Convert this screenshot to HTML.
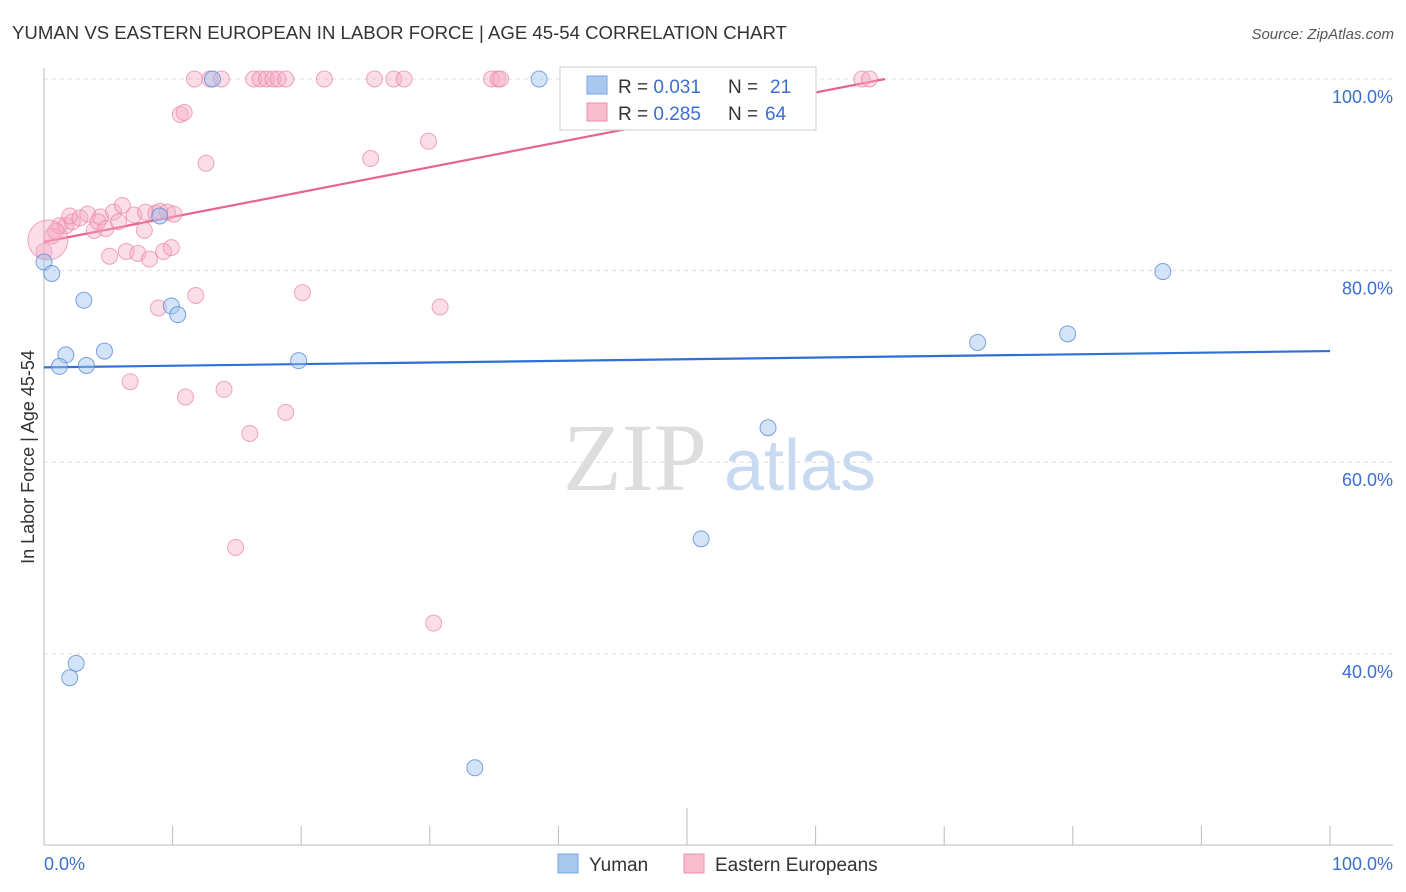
<!DOCTYPE html>
<html><head><meta charset="utf-8"><style>
body{margin:0;background:#fff;font-family:"Liberation Sans",sans-serif;}
svg{display:block}
</style></head><body>
<svg id="chart" width="1406" height="892">
<text x="12" y="39" font-size="18.6" fill="#333">YUMAN VS EASTERN EUROPEAN IN LABOR FORCE | AGE 45-54 CORRELATION CHART</text>
<text x="1394" y="39" font-size="15" fill="#555" font-style="italic" text-anchor="end">Source: ZipAtlas.com</text>
<text x="34" y="457" font-size="18" fill="#333" text-anchor="middle" transform="rotate(-90 34 457)">In Labor Force | Age 45-54</text>
<g><text x="635" y="490" font-size="96" fill="#ddd" font-family="Liberation Serif,serif" text-anchor="middle">ZIP</text><text x="800" y="490" font-size="72" fill="#c8daf2" text-anchor="middle">atlas</text></g>
<g id="grid"></g><g id="ticks"></g><g id="lines"></g><g id="pts"></g>
<g>
<rect x="560" y="67" width="256" height="63" fill="#fff" stroke="#ccc"/>
<rect x="587" y="76" width="20" height="18" fill="#a9c8f0" stroke="#7aa6e0"/>
<rect x="587" y="103" width="20" height="18" fill="#f7bccd" stroke="#ef8fae"/>
<text x="618" y="93" font-size="19" fill="#333">R = <tspan fill="#3a6fd0">0.031</tspan><tspan x="728">N = </tspan><tspan fill="#3a6fd0" x="770">21</tspan></text>
<text x="618" y="120" font-size="19" fill="#333">R = <tspan fill="#3a6fd0">0.285</tspan><tspan x="728">N = </tspan><tspan fill="#3a6fd0" x="765">64</tspan></text>
</g>
<g>
<rect x="558" y="854" width="20" height="19" fill="#a9c8f0" stroke="#7aa6e0"/>
<text x="589" y="871" font-size="19" fill="#333">Yuman</text>
<rect x="684" y="854" width="20" height="19" fill="#f7bccd" stroke="#ef8fae"/>
<text x="715" y="871" font-size="19" fill="#333">Eastern Europeans</text>
</g>
<text x="44" y="870" font-size="18" fill="#3a6fd0">0.0%</text>
<text x="1393" y="870" font-size="18" fill="#3a6fd0" text-anchor="end">100.0%</text>
</svg>
<script>
const yTickVals=[100,80,60,40];
const yTickLabels=["100.0%","80.0%","60.0%","40.0%"];
const yumanX=[0,0.6,3.1,1.7,1.2,3.3,4.7,9,9.9,10.4,13.1,19.8,38.5,56.3,51.1,72.6,79.6,87.0,2.5,2.0,33.5];
const yumanY=[80.9,79.7,76.9,71.2,70.0,70.1,71.6,85.7,76.3,75.4,100,70.6,100,63.6,52.0,72.5,73.4,79.9,39.0,37.5,28.1];
const eeX=[0,0.6,0.9,1.2,1.7,2.2,2.0,2.8,3.4,3.9,4.4,4.2,4.8,5.1,5.4,5.8,6.1,6.4,7.0,7.3,7.8,7.9,8.2,8.7,9.0,9.3,9.6,9.9,10.1,8.9,11.8,6.7,11.0,14.0,16.0,18.8,14.9,20.1,30.8,30.3,10.6,10.9,12.6,25.4,29.9,11.7,12.9,13.8,16.3,16.8,17.3,17.8,18.2,18.8,21.8,25.7,27.2,28.0,34.8,35.3,35.5,63.6,64.2,0.3];
const eeY=[82.0,83.6,84.1,84.7,84.7,85.1,85.7,85.5,85.9,84.2,85.6,85.1,84.4,81.5,86.1,85.1,86.8,82.0,85.8,81.8,84.2,86.1,81.2,86.0,86.2,82.0,86.1,82.4,85.9,76.1,77.4,68.4,66.8,67.6,63.0,65.2,51.1,77.7,76.2,43.2,96.3,96.5,91.2,91.7,93.5,100,100,100,100,100,100,100,100,100,100,100,100,100,100,100,100,100,100,83.2];
const yumanTrend=[69.9,71.6];
const eeTrend=[83.0,100];
const eeTrendEndX=65.4;
const X=v=>44+v*12.86, Y=v=>79+(100-v)*9.58;
const NS="http://www.w3.org/2000/svg";
function mk(t,a,p){const e=document.createElementNS(NS,t);for(const k in a)e.setAttribute(k,a[k]);p.appendChild(e);return e;}
const grid=document.getElementById('grid');
yTickVals.forEach((v,i)=>{
 const l=mk('line',{x1:44,x2:1393,y1:Y(v),y2:Y(v),stroke:'#ddd','stroke-dasharray':'4,4'},grid);
 
 
 const t=mk('text',{x:1393,y:Y(v)+24,'font-size':18,fill:'#3a6fd0','text-anchor':'end'},grid);
 t.textContent=yTickLabels[i];
 
 
});
const tk=document.getElementById('ticks');
mk('line',{x1:44,x2:44,y1:68,y2:845,stroke:'#bbb'},tk);
mk('line',{x1:44,x2:1393,y1:845,y2:845,stroke:'#bbb'},tk);
for(let i=0;i<=10;i++){const l=mk('line',{x1:X(i*10),x2:X(i*10),y1:i==5?808:826,y2:845,stroke:'#bbb'},tk);
 
 }
const ln=document.getElementById('lines');
const bl=mk('line',{x1:X(0),y1:Y(yumanTrend[0]),x2:X(100),y2:Y(yumanTrend[1]),stroke:'#2f6fd6','stroke-width':2.2},ln);


const pl=mk('line',{x1:X(0),y1:Y(eeTrend[0]),x2:X(eeTrendEndX),y2:Y(eeTrend[1]),stroke:'#e8648f','stroke-width':2.2},ln);


const pts=document.getElementById('pts');
eeX.forEach((x,i)=>{const c=mk('circle',{cx:X(x),cy:Y(eeY[i]),r:i==eeX.length-1?20:8,fill:'rgba(245,170,195,0.4)',stroke:'rgba(235,130,165,0.7)','stroke-width':1},pts);
 
 });
yumanX.forEach((x,i)=>{const c=mk('circle',{cx:X(x),cy:Y(yumanY[i]),r:8,fill:'rgba(160,195,240,0.45)',stroke:'rgba(90,140,215,0.8)','stroke-width':1},pts);
 
 });
</script>
</body></html>
